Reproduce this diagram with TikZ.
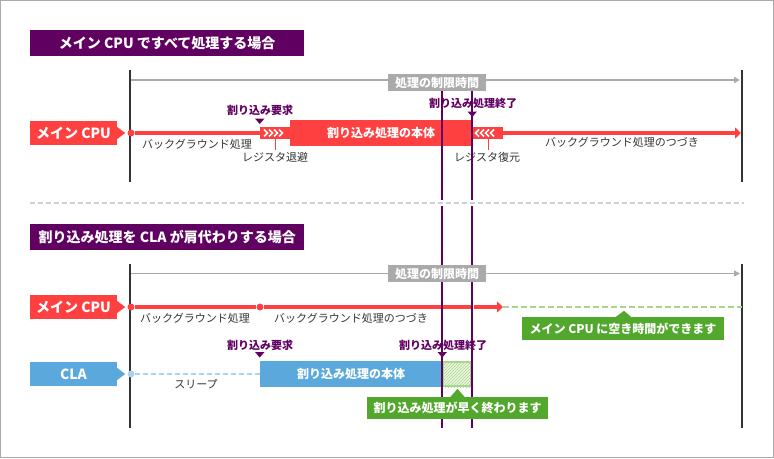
\documentclass[tikz,border=0pt]{standalone}
\usepackage{fontspec}
\setmainfont{Noto Sans CJK JP}
\usepackage{xcolor}
\usepackage{tikz}
\usetikzlibrary{arrows.meta, positioning, patterns}
\definecolor{ttlpurple}{RGB}{96,0,96}
\definecolor{cpured}{RGB}{255,64,64}
\definecolor{clablue}{RGB}{90,168,220}
\definecolor{sleepblue}{RGB}{170,212,236}
\definecolor{freegreen}{RGB}{82,168,44}
\definecolor{idlegreen}{RGB}{170,214,140}
\definecolor{hatchfill}{RGB}{234,246,226}
\definecolor{limitgray}{RGB}{170,170,170}
\definecolor{axisdark}{RGB}{51,51,51}
\definecolor{sepgray}{RGB}{208,208,208}
\newcommand{\fsz}[1]{\fontsize{#1}{#1}\selectfont}

\begin{document}
\begin{tikzpicture}[
    x=1pt, y=-1pt,
    title/.style={fill=ttlpurple, text=white, font=\fsz{14}\bfseries, minimum width=274pt, minimum height=26pt, inner sep=0pt, anchor=north west},
    tag/.style={fill=#1, text=white, font=\fsz{14}\bfseries, minimum width=87pt, minimum height=24pt, inner sep=0pt},
    limitbox/.style={fill=limitgray, text=white, font=\fsz{12}\bfseries, minimum width=98pt, minimum height=17pt, inner sep=0pt},
    body/.style={fill=#1, text=white, font=\fsz{12}\bfseries, minimum width=182pt, minimum height=26pt, inner sep=0pt},
    regbox/.style={fill=cpured, minimum width=31pt, minimum height=12pt, inner sep=0pt},
    callout/.style={fill=freegreen, text=white, font=\fsz{12}\bfseries, minimum height=23pt, inner sep=0pt},
    note/.style={text=axisdark, font=\fsz{11}, inner sep=0pt},
    evmark/.style={text=ttlpurple, font=\fsz{11}\bfseries, inner sep=0pt},
    dot/.style={circle, fill=#1, minimum size=7pt, inner sep=0pt},
    axis/.style={axisdark, line width=2.5pt},
    limit/.style={limitgray, line width=1.5pt, -{Triangle[length=6pt, width=6pt]}},
    run/.style={cpured, line width=4pt},
    arrow/.style={cpured, line width=4pt, -{Triangle[length=6pt, width=11pt]}},
    guide/.style={ttlpurple, line width=1.2pt},
    chev/.style={white, line width=1.7pt},
    tick/.style={cpured, line width=1pt}
]

% Frame
\useasboundingbox (0,0) rectangle (774,458);
\draw[limitgray, line width=1pt] (0.5,0.5) rectangle (773.5,457.5);

% Separator
\draw[sepgray, line width=2pt, dash pattern=on 5pt off 3pt] (30,203) -- (744,203);

%%% Case 1: main CPU does everything
\node[title] (ttlA) at (30,30) {メイン CPU ですべて処理する場合};

% Time axis
\coordinate (axAs) at (130,70);
\coordinate (axAe) at (130,182);
\coordinate (axBs) at (742,70);
\coordinate (axBe) at (742,182);
\draw[axis] (axAs) -- (axAe);
\draw[axis] (axBs) -- (axBe);
\coordinate (limAs) at (131,80);
\coordinate (limAe) at (740,80);
\draw[limit] (limAs) -- (limAe);

% Main CPU
\node[tag=cpured] (cpuA) at (73.5,133) {メイン CPU};
\fill[cpured] ([yshift=6pt]cpuA.east) -- ([xshift=8pt]cpuA.east) -- ([yshift=-6pt]cpuA.east) -- cycle;
\node[dot=cpured] (startA) at (131,133) {};
\node[regbox, minimum width=30pt] (saveA) at (275,133) {};
\node[body=cpured] (bodyA) at (381,133) {割り込み処理の本体};
\node[regbox] (restA) at (487.5,133) {};
\coordinate (runendA) at (741,133);
\draw[run] (startA) -- (saveA);
\draw[arrow] (restA.east) -- (runendA);
\foreach \i in {0,...,3}
    \draw[chev] (264+5*\i,129.5) -- ++(3.5,3.5) -- ++(-3.5,3.5);
\foreach \i in {0,...,3}
    \draw[chev] (479+5*\i,129.5) -- ++(-3.5,3.5) -- ++(3.5,3.5);

% Register save / restore
\draw[tick] (saveA.south) -- ++(0,11);
\node[note] (saveLab) at (275,157) {レジスタ退避};
\draw[tick] ([xshift=0.5pt]restA.south) -- ++(0,11);
\node[note] (restLab) at (487,157) {レジスタ復元};

\node[note] (bgA) at (197,144) {バックグラウンド処理};
\node[note] (bgcontA) at (622,142) {バックグラウンド処理のつづき};

%%% Case 2: CLA takes over
\node[title] (ttlB) at (30,224) {割り込み処理を CLA が肩代わりする場合};

% Time axis
\coordinate (axCs) at (130,264);
\coordinate (axCe) at (130,428);
\coordinate (axDs) at (742,264);
\coordinate (axDe) at (742,428);
\draw[axis] (axCs) -- (axCe);
\draw[axis] (axDs) -- (axDe);
\coordinate (limBs) at (131,273.5);
\coordinate (limBe) at (740,273.5);
\draw[limit] (limBs) -- (limBe);

% Main CPU
\node[tag=cpured] (cpuB) at (73.5,307) {メイン CPU};
\fill[cpured] ([yshift=6pt]cpuB.east) -- ([xshift=8pt]cpuB.east) -- ([yshift=-6pt]cpuB.east) -- cycle;
\node[dot=cpured] (startB) at (131,307) {};
\node[dot=cpured] (midB) at (260,307) {};
\coordinate (gapB) at (470.5,307);
\coordinate (resB) at (474,307);
\coordinate (freeB) at (503,307);
\coordinate (endB) at (742,307);
\draw[run] (startB) -- (midB) -- (gapB);
\draw[arrow] (resB) -- (freeB);
\draw[idlegreen, line width=2pt, dash pattern=on 6pt off 3pt] (freeB) -- (endB);

\node[note] (bgB) at (195,318) {バックグラウンド処理};
\node[note] (bgcontB) at (351,318) {バックグラウンド処理のつづき};

% CLA
\node[tag=clablue] (cla) at (73.5,374) {CLA};
\fill[clablue] ([yshift=6pt]cla.east) -- ([xshift=8pt]cla.east) -- ([yshift=-6pt]cla.east) -- cycle;
\node[dot=sleepblue] (startC) at (131,374) {};
\node[body=clablue] (bodyB) at (351,374) {割り込み処理の本体};
\draw[sleepblue, line width=2pt, dash pattern=on 5pt off 3pt] (startC) -- (bodyB);
\node[note] (sleep) at (196,384) {スリープ};

% Time saved
\node[fill=hatchfill, draw=idlegreen, line width=2pt, minimum width=28pt, minimum height=24pt, inner sep=0pt] (saved) at (457,374) {};
\fill[pattern=north east lines, pattern color=idlegreen] (saved.south west) rectangle (saved.north east);

% Guides
\draw[guide] (442,90) -- (442,200);
\draw[guide] (442,206) -- (442,428);
\draw[guide] (472,90) -- (472,200);
\draw[guide] (472,206) -- (472,428);

% Limit labels
\node[limitbox] (limA) at (437,82.5) {処理の制限時間};
\node[limitbox] (limB) at (437,273.5) {処理の制限時間};

% Markers
\node[evmark] (reqA) at (260,110) {割り込み要求};
\fill[ttlpurple] (255,118.5) -- (264.5,118.5) -- (259.75,124) -- cycle;
\node[evmark] (endA) at (473,103) {割り込み処理終了};
\fill[ttlpurple] (467.5,111.5) -- (477,111.5) -- (472.25,117) -- cycle;
\node[evmark] (reqB) at (260,345) {割り込み要求};
\fill[ttlpurple] (255,352) -- (264.5,352) -- (259.75,357.5) -- cycle;
\node[evmark] (endB) at (443,345) {割り込み処理終了};
\fill[ttlpurple] (437.5,352) -- (447,352) -- (442.25,357.5) -- cycle;

% Callouts
\node[callout, minimum width=202pt] (idle) at (623,328.5) {メイン CPU に空き時間ができます};
\fill[freegreen] ([xshift=-7pt]idle.north) -- ([xshift=1pt, yshift=6pt]idle.north) -- ([xshift=8pt]idle.north) -- cycle;
\node[callout, minimum width=181pt, minimum height=22pt] (early) at (457.5,408) {割り込み処理が早く終わります};
\fill[freegreen] ([xshift=-7pt]early.north) -- ([yshift=8pt]early.north) -- ([xshift=7pt]early.north) -- cycle;

\end{tikzpicture}
\end{document}
